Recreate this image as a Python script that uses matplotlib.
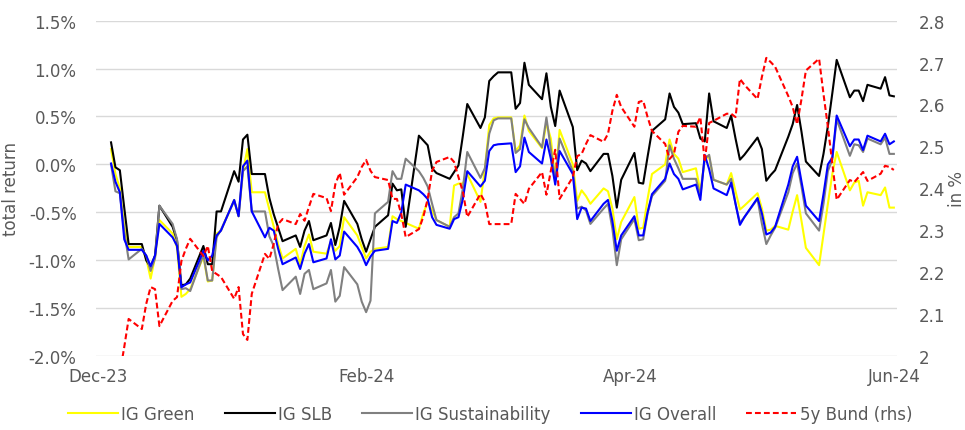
import numpy as np
import pandas as pd
import matplotlib
matplotlib.use('Agg')
import matplotlib.pyplot as plt
from matplotlib.ticker import FuncFormatter, MultipleLocator

# business days shown on the chart
dates = pd.bdate_range('2023-12-04', '2024-05-30')

# total return in %, one value per business day (Dec, Jan, Feb, Mar, Apr, May)
ig_green = [
    0.16, -0.10, -0.25, -0.65, -0.86, -0.86, -0.98, -1.19, -0.97, -0.58, -0.72, -0.87, -1.38, -1.35, -1.30, -0.96, -1.22, -1.21, -0.72, -0.69,
    -0.37, -0.54, -0.07, 0.16, -0.29, -0.29, -0.47, -0.65, -0.83, -0.98, -0.88, -1.04, -0.85, -0.73, -0.91, -0.93, -0.80, -0.90, -0.85, -0.55, -0.74, -0.86, -0.98,
    -0.91, -0.88, -0.86, -0.54, -0.57, -0.59, -0.61, -0.67, -0.51, -0.39, -0.48, -0.58, -0.65, -0.22, -0.20, -0.20, -0.10, -0.39, -0.05, 0.41, 0.48,
    0.49, 0.49, 0.14, 0.20, 0.51, 0.35, 0.17, 0.43, 0.27, -0.15, 0.36, 0.00, -0.38, -0.27, -0.33, -0.41, -0.25, -0.28, -0.46, -0.78, -0.60,
    -0.34, -0.67, -0.66, -0.36, -0.10, 0.00, 0.26, 0.11, 0.06, -0.08, -0.04, -0.28, 0.06, 0.08, -0.16, -0.21, -0.09, -0.28, -0.47, -0.43, -0.30, -0.46,
    -0.69, -0.68, -0.64, -0.68, -0.49, -0.32, -0.59, -0.87, -1.05, -0.73, -0.41, -0.10, 0.13, -0.27, -0.19, -0.17, -0.43, -0.29, -0.32, -0.24, -0.45, -0.45,
]
ig_slb = [
    0.23, -0.03, -0.06, -0.45, -0.83, -0.83, -1.00, -1.07, -0.95, -0.43, -0.65, -0.79, -1.26, -1.25, -1.19, -0.85, -1.04, -1.04, -0.49, -0.49,
    -0.07, -0.18, 0.26, 0.31, -0.10, -0.10, -0.35, -0.52, -0.66, -0.80, -0.74, -0.86, -0.69, -0.59, -0.79, -0.74, -0.61, -0.84, -0.65, -0.38, -0.62, -0.78, -0.91,
    -0.78, -0.65, -0.53, -0.20, -0.27, -0.26, -0.65, 0.30, 0.25, 0.20, -0.04, -0.09, -0.15, -0.08, -0.01, 0.30, 0.63, 0.38, 0.49, 0.87, 0.92,
    0.96, 0.96, 0.58, 0.64, 1.06, 0.83, 0.68, 0.95, 0.60, 0.40, 0.77, 0.39, -0.06, 0.04, 0.01, -0.07, 0.11, 0.11, -0.12, -0.45, -0.16,
    0.12, -0.19, -0.20, 0.08, 0.35, 0.47, 0.74, 0.60, 0.54, 0.42, 0.43, 0.27, 0.24, 0.74, 0.45, 0.38, 0.51, 0.27, 0.05, 0.10, 0.28, 0.16,
    -0.17, -0.11, -0.06, 0.29, 0.42, 0.62, 0.34, 0.03, -0.12, 0.11, 0.40, 0.74, 1.09, 0.70, 0.77, 0.77, 0.66, 0.83, 0.79, 0.91, 0.72, 0.71,
]
ig_sustainability = [
    0.00, -0.28, -0.30, -0.70, -0.99, -0.88, -0.95, -1.11, -0.98, -0.43, -0.62, -0.78, -1.30, -1.29, -1.32, -0.94, -1.21, -1.21, -0.76, -0.68,
    -0.38, -0.54, -0.07, -0.02, -0.49, -0.49, -0.75, -0.85, -1.09, -1.31, -1.17, -1.35, -1.14, -1.10, -1.30, -1.24, -1.10, -1.43, -1.37, -1.07, -1.25, -1.43, -1.54,
    -1.42, -0.51, -0.39, -0.07, -0.15, -0.15, 0.06, -0.07, -0.14, -0.23, -0.41, -0.58, -0.65, -0.55, -0.51, -0.25, 0.13, -0.14, -0.04, 0.32, 0.46,
    0.48, 0.48, 0.12, 0.16, 0.47, 0.38, 0.18, 0.49, 0.16, -0.17, 0.27, -0.07, -0.46, -0.44, -0.48, -0.62, -0.46, -0.41, -0.67, -1.05, -0.78,
    -0.57, -0.79, -0.78, -0.51, -0.33, -0.17, 0.20, 0.06, -0.04, -0.15, -0.15, -0.32, 0.06, 0.10, -0.16, -0.21, -0.15, -0.41, -0.61, -0.55, -0.36, -0.62,
    -0.83, -0.74, -0.66, -0.29, -0.09, 0.01, -0.23, -0.51, -0.69, -0.41, -0.07, 0.05, 0.47, 0.09, 0.21, 0.20, 0.13, 0.27, 0.21, 0.28, 0.11, 0.11,
]
ig_overall = [
    0.01, -0.18, -0.29, -0.78, -0.89, -0.89, -0.95, -1.06, -0.95, -0.62, -0.76, -0.85, -1.28, -1.25, -1.23, -0.90, -1.00, -0.95, -0.74, -0.69,
    -0.37, -0.54, -0.02, 0.04, -0.49, -0.76, -0.66, -0.69, -0.88, -1.04, -0.97, -1.09, -0.93, -0.83, -1.02, -0.98, -0.78, -0.99, -0.95, -0.70, -0.86, -0.94, -1.05,
    -0.96, -0.90, -0.88, -0.59, -0.61, -0.50, -0.21, -0.27, -0.31, -0.36, -0.55, -0.63, -0.67, -0.57, -0.55, -0.36, -0.07, -0.23, -0.17, 0.14, 0.20,
    0.21, 0.22, -0.08, -0.02, 0.28, 0.13, 0.01, 0.26, 0.06, -0.21, 0.14, -0.10, -0.57, -0.45, -0.46, -0.59, -0.41, -0.37, -0.59, -0.90, -0.74,
    -0.54, -0.74, -0.74, -0.50, -0.31, -0.15, 0.01, -0.10, -0.15, -0.26, -0.21, -0.37, 0.10, -0.05, -0.25, -0.32, -0.19, -0.41, -0.63, -0.55, -0.35, -0.51,
    -0.73, -0.71, -0.65, -0.21, -0.02, 0.08, -0.18, -0.43, -0.59, -0.31, 0.00, 0.07, 0.51, 0.19, 0.26, 0.26, 0.15, 0.30, 0.24, 0.32, 0.21, 0.24,
]
# 5y Bund yield in % (right axis)
bund_5y = [
    1.95, 1.95, 1.96, 2.022, 2.089, 2.065, 2.125, 2.165, 2.160, 2.072, 2.132, 2.141, 2.227, 2.256, 2.280, 2.239, 2.263, 2.203, 2.196, 2.189,
    2.137, 2.165, 2.053, 2.039, 2.149, 2.244, 2.232, 2.268, 2.315, 2.327, 2.315, 2.339, 2.323, 2.356, 2.387, 2.377, 2.346, 2.410, 2.437, 2.385, 2.427, 2.451, 2.468,
    2.442, 2.427, 2.420, 2.375, 2.375, 2.339, 2.284, 2.303, 2.332, 2.375, 2.442, 2.463, 2.475, 2.463, 2.427, 2.392, 2.332, 2.387, 2.368, 2.315, 2.315,
    2.315, 2.315, 2.387, 2.375, 2.363, 2.399, 2.439, 2.385, 2.442, 2.492, 2.375, 2.427, 2.477, 2.482, 2.506, 2.527, 2.511, 2.530, 2.585, 2.623, 2.594,
    2.547, 2.606, 2.609, 2.570, 2.537, 2.506, 2.470, 2.482, 2.535, 2.549, 2.547, 2.570, 2.463, 2.556, 2.561, 2.578, 2.578, 2.570, 2.661, 2.647, 2.613, 2.666,
    2.711, 2.701, 2.690, 2.620, 2.594, 2.553, 2.613, 2.681, 2.709, 2.625, 2.547, 2.459, 2.373, 2.420, 2.415, 2.427, 2.439, 2.418, 2.435, 2.454, 2.451, 2.444,
]

tick_dates = pd.to_datetime(['2023-12-01', '2024-01-31', '2024-03-31', '2024-05-30'])
tick_labels = ['Dec-23', 'Feb-24', 'Apr-24', 'Jun-24']

text_color = '#595959'
grid_color = '#D9D9D9'
plt.rcParams['font.family'] = ['DejaVu Sans']

fig = plt.figure(figsize=(9.65, 4.31), dpi=100)
ax = fig.add_axes([0.0995, 0.171, 0.830, 0.779])
ax2 = ax.twinx()

ax.plot(dates, ig_green, color='#FFFF00', lw=1.5, label='IG Green')
ax.plot(dates, ig_slb, color='black', lw=1.5, label='IG SLB')
ax.plot(dates, ig_sustainability, color='#808080', lw=1.5, label='IG Sustainability')
ax.plot(dates, ig_overall, color='#0000FF', lw=1.5, label='IG Overall')
ax2.plot(dates, bund_5y, color='#FF0000', lw=1.5, dashes=(2.8, 1.5), label='5y Bund (rhs)')

# axes ranges
ax.set_xlim(pd.Timestamp('2023-12-01') - pd.Timedelta(hours=10), pd.Timestamp('2024-05-30') + pd.Timedelta(hours=17))
ax.set_ylim(-2.0, 1.5)
ax.yaxis.set_major_locator(MultipleLocator(0.5))
ax.yaxis.set_major_formatter(FuncFormatter(lambda v, p: f'{v:.1f}%'))
ax2.set_ylim(2.0, 2.8)
ax2.yaxis.set_major_locator(MultipleLocator(0.1))
ax2.yaxis.set_major_formatter(FuncFormatter(lambda v, p: f'{v:g}'))

ax.set_xticks(tick_dates)
ax.set_xticklabels(tick_labels)

ax.grid(axis='y', color=grid_color, lw=1)
ax.set_axisbelow(True)
for a in (ax, ax2):
    for s in ('top', 'left', 'right', 'bottom'):
        a.spines[s].set_visible(False)
    a.tick_params(length=0, colors=text_color, labelsize=12)
ax.tick_params(axis='y', pad=14)
ax.tick_params(axis='x', pad=8)
ax2.tick_params(axis='y', pad=16)

ax.set_ylabel('total return', color=text_color, fontsize=12, labelpad=6)
ax2.set_ylabel('in %', color=text_color, fontsize=12, rotation=90, labelpad=2)

# legend along the bottom
handles = ax.get_lines() + ax2.get_lines()
fig.legend(handles, [h.get_label() for h in handles], loc='center', bbox_to_anchor=(490 / 965, 1 - 415 / 431),
           ncol=5, frameon=False, fontsize=12, handlelength=3.0, columnspacing=1.8, handletextpad=0.2,
           labelcolor=text_color)

fig.savefig('out.png', dpi=100)
